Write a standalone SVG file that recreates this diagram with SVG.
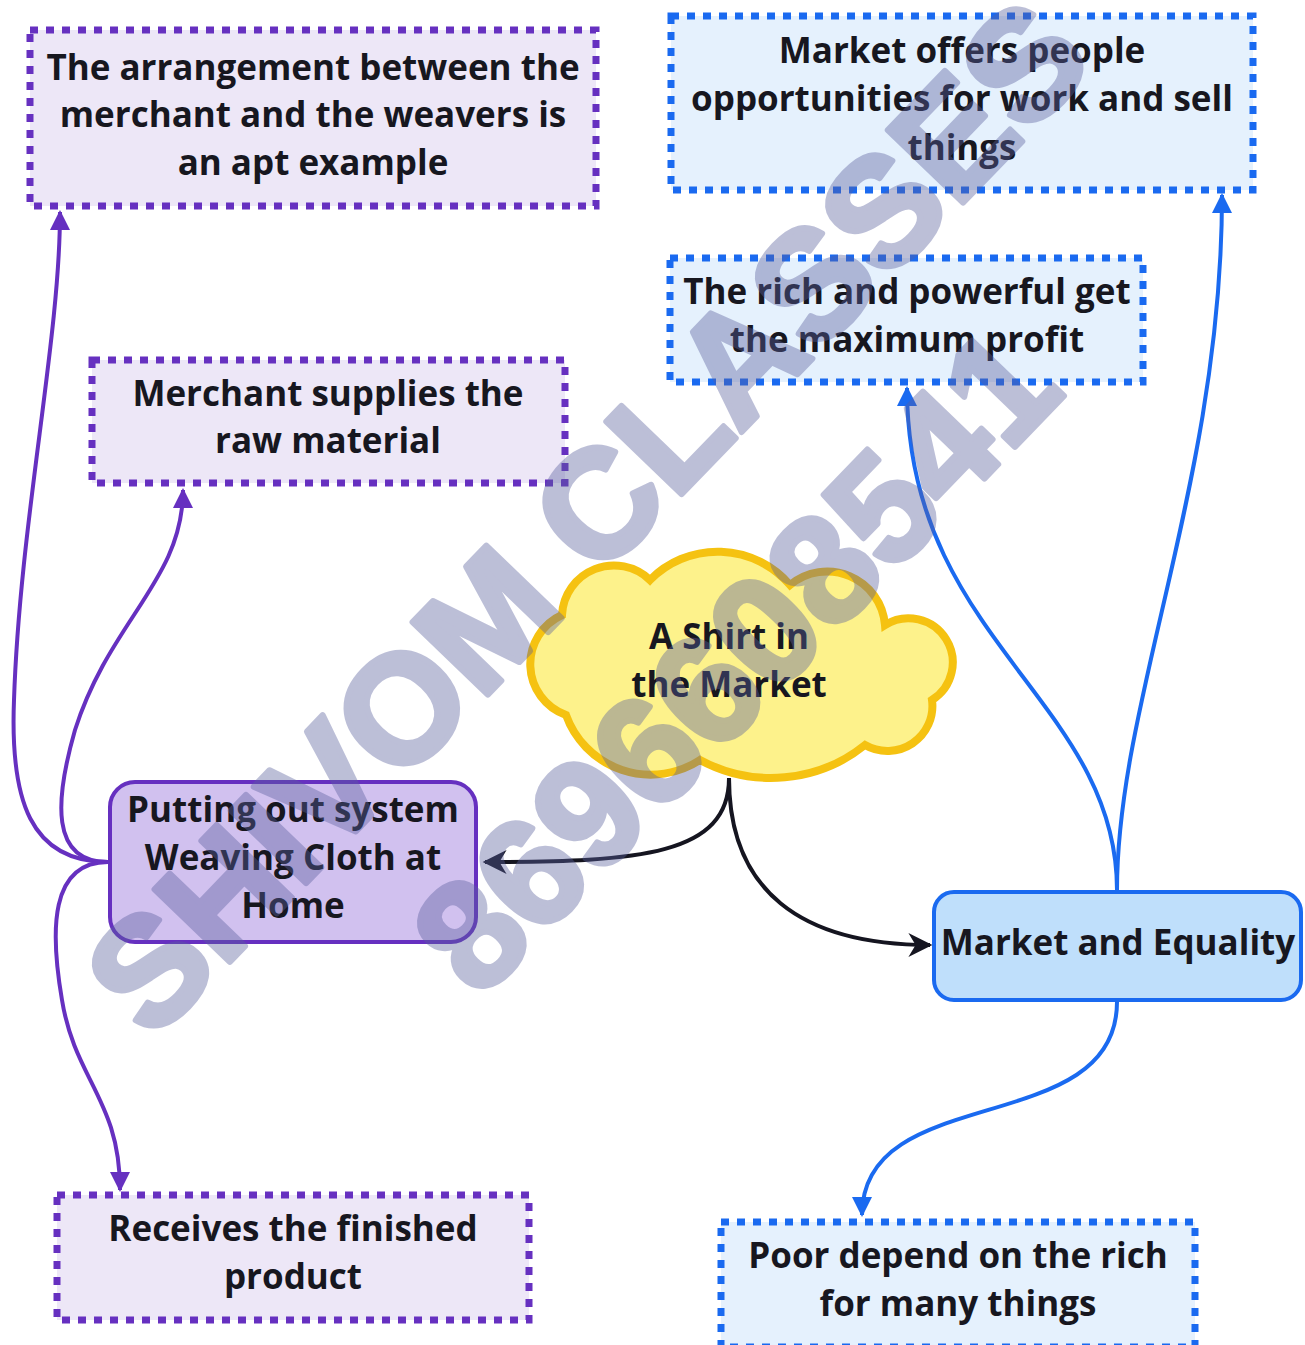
<svg xmlns="http://www.w3.org/2000/svg" width="1305" height="1345" viewBox="0 0 1305 1345">
<defs>
<style>
.t{font-family:"Open Sans","Noto Sans","Liberation Sans",sans-serif;font-weight:700;font-size:35px;fill:#17171f;text-anchor:middle}
.pd{fill:#ede7f7;stroke:#6630c0;stroke-width:7;stroke-dasharray:8 8}
.bd{fill:#e5f1fd;stroke:#1a6af0;stroke-width:7;stroke-dasharray:8 8}
.cp{fill:none;stroke:#6630c0;stroke-width:4}
.cb{fill:none;stroke:#1a6af0;stroke-width:4}
.ck{fill:none;stroke:#151520;stroke-width:4}
.wm{font-family:"Liberation Sans",Arial,sans-serif;font-weight:700;font-size:152px;fill:#5a609e;text-anchor:middle;stroke:#5a609e;stroke-width:6;stroke-linejoin:round}
</style>
<marker id="ap" viewBox="0 0 10 10" refX="9" refY="5" markerWidth="5" markerHeight="5" orient="auto" markerUnits="strokeWidth"><path d="M0,0 L10,5 L0,10 z" fill="#6630c0"/></marker>
<marker id="ab" viewBox="0 0 10 10" refX="9" refY="5" markerWidth="5" markerHeight="5" orient="auto" markerUnits="strokeWidth"><path d="M0,0 L10,5 L0,10 z" fill="#1a6af0"/></marker>
<marker id="ak" viewBox="0 0 10 10" refX="9" refY="5" markerWidth="6.5" markerHeight="6" orient="auto" markerUnits="strokeWidth"><path d="M0,0 L10,5 L0,10 L3,5 z" fill="#151520"/></marker>
</defs>
<rect width="1305" height="1345" fill="#ffffff"/>
<g id="connectors">
<path class="ck" d="M729,778 C729,855 640,862 485,862" marker-end="url(#ak)"/>
<path class="ck" d="M729,778 C729,890 800,945 930,945" marker-end="url(#ak)"/>
<path class="cp" d="M108,862 C30,862 10,800 14,700 C20,520 60,340 60,212" marker-end="url(#ap)"/>
<path class="cp" d="M108,862 C50,862 55,800 75,730 C110,620 183,580 183,490" marker-end="url(#ap)"/>
<path class="cp" d="M108,862 C50,862 50,930 62,1000 C75,1080 120,1100 120,1190" marker-end="url(#ap)"/>
<path class="cb" d="M1117,890 C1117,700 907,640 907,388" marker-end="url(#ab)"/>
<path class="cb" d="M1117,890 C1117,700 1222,480 1222,195" marker-end="url(#ab)"/>
<path class="cb" d="M1117,1002 C1117,1140 862,1080 862,1215" marker-end="url(#ab)"/>
</g>
<g id="n-arrangement"><rect class="pd" x="30" y="30" width="566" height="176"/>
<text class="t" x="313" y="80">The arrangement between the</text><text class="t" x="313" y="127">merchant and the weavers is</text><text class="t" x="313" y="175">an apt example</text></g>
<g id="n-offers"><rect class="bd" x="671" y="16" width="582" height="174"/>
<text class="t" x="962" y="63">Market offers people</text><text class="t" x="962" y="111">opportunities for work and sell</text><text class="t" x="962" y="160">things</text></g>
<g id="n-rich"><rect class="bd" x="670" y="258" width="473" height="124"/>
<text class="t" x="907" y="304">The rich and powerful get</text><text class="t" x="907" y="352">the maximum profit</text></g>
<g id="n-merchant"><rect class="pd" x="92" y="360" width="473" height="123"/>
<text class="t" x="328" y="406">Merchant supplies the</text><text class="t" x="328" y="453">raw material</text></g>
<g id="n-shirt"><path d="M562,615 A52,52 0 0 1 650,580 A95,95 0 0 1 790,585 A58,58 0 0 1 885,625 A44,44 0 0 1 932,700 A45,45 0 0 1 865,745 A150,150 0 0 1 700,760 A90,90 0 0 1 566,715 A54,54 0 0 1 562,615 Z" fill="#fdf28b" stroke="#f5c211" stroke-width="8"/>
<text class="t" x="729" y="649">A Shirt in</text><text class="t" x="729" y="697">the Market</text></g>
<g id="n-putting"><rect x="110" y="782" width="366" height="160" rx="25" fill="#d1c1ef" stroke="#6630c0" stroke-width="4"/>
<text class="t" x="293" y="822">Putting out system</text><text class="t" x="293" y="870">Weaving Cloth at</text><text class="t" x="293" y="918">Home</text></g>
<g id="n-equality"><rect x="934" y="892" width="367" height="108" rx="20" fill="#bfdffb" stroke="#1a6af0" stroke-width="4"/>
<text class="t" x="1118" y="955">Market and Equality</text></g>
<g id="n-receives"><rect class="pd" x="57" y="1195" width="472" height="125"/>
<text class="t" x="293" y="1241">Receives the finished</text><text class="t" x="293" y="1289">product</text></g>
<g id="n-poor"><rect class="bd" x="721" y="1222" width="474" height="125"/>
<text class="t" x="958" y="1268">Poor depend on the rich</text><text class="t" x="958" y="1316">for many things</text></g>
<g id="watermark" opacity="0.4" transform="translate(585,515) rotate(-46)">
<text class="wm" x="0" y="55">SHIVOM CLASSES</text>
<text class="wm" x="0" y="262">8696608541</text>
</g>
</svg>
